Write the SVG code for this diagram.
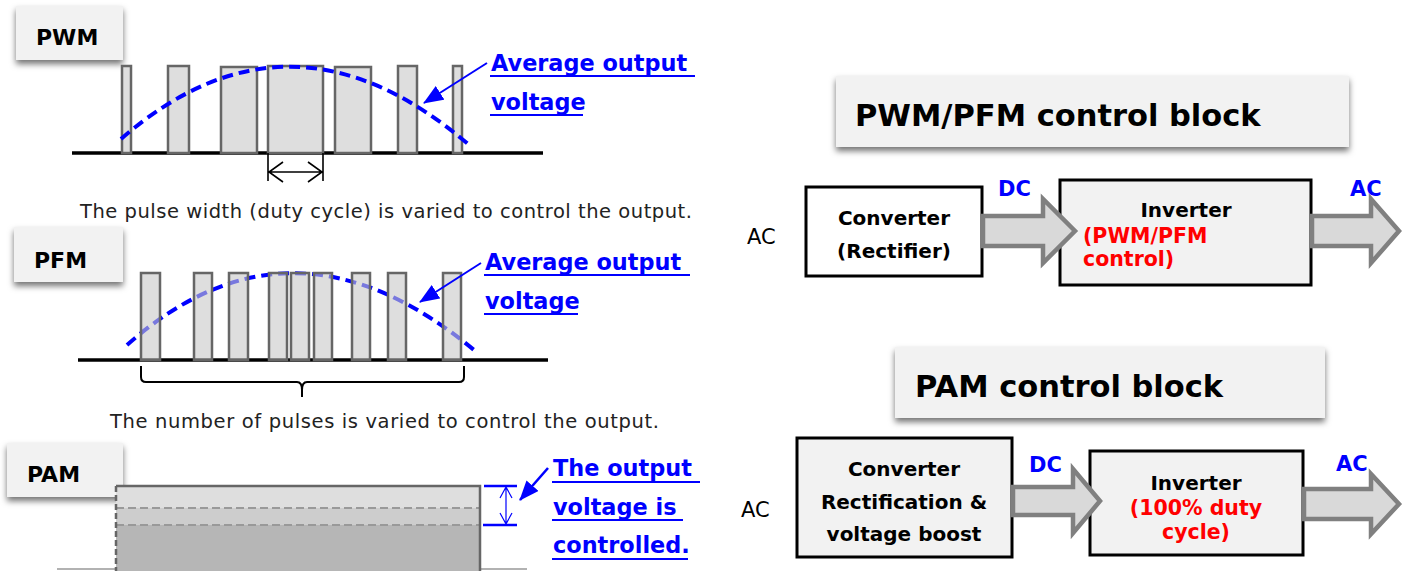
<svg xmlns="http://www.w3.org/2000/svg" width="1406" height="571" viewBox="0 0 1406 571">
<style>
text{font-family:"DejaVu Sans",Verdana,sans-serif}
.lbl{font-size:22px;font-weight:bold;fill:#000}
.title{font-size:30.5px;font-weight:bold;fill:#000}
.body{font-size:19.5px;fill:#222}
.ann{font-size:22.4px;font-weight:bold;fill:#0000ff}
.ul{stroke:#0000ff;stroke-width:2}
.box{fill:#f2f2f2}
.pulse{fill:#dedede;stroke:#666;stroke-width:2.5}
.pulse2{fill:#c8c8c8;fill-opacity:0.6;stroke:#666;stroke-width:2.5}
.avg{fill:none;stroke:#0000ff;stroke-width:4;stroke-dasharray:11 6}
.axis{stroke:#000;stroke-width:3.5}
.blk{stroke:#000;stroke-width:3}
.btxt{font-size:20px;font-weight:bold;fill:#000;text-anchor:middle}
.red{font-size:20.5px;font-weight:bold;fill:#ff0000}
.sig{font-size:21px;font-weight:bold;fill:#0000ff}
.ac{font-size:21px;fill:#000}
.barrow{fill:#d9d9d9;stroke:#808080;stroke-width:4.5;stroke-linejoin:miter}
</style>
<defs>
<filter id="sh" x="-10%" y="-20%" width="125%" height="160%">
<feDropShadow dx="0" dy="4" stdDeviation="3" flood-color="#000" flood-opacity="0.55"/>
</filter>
<marker id="bh" markerWidth="20" markerHeight="16" refX="19" refY="8" orient="auto" markerUnits="userSpaceOnUse" viewBox="0 0 20 16">
<path d="M0,0 L20,8 L0,16 Z" fill="#0000ff"/>
</marker>
</defs>

<!-- PWM section -->
<g id="pwm-label">
<rect x="16" y="6" width="107" height="54" class="box" filter="url(#sh)"/>
<text x="36" y="45" class="lbl">PWM</text>
</g>
<g id="pwm-chart">
<line x1="72" y1="153" x2="543" y2="153" class="axis"/>
<rect x="122" y="66" width="9" height="87" class="pulse"/>
<rect x="168" y="66" width="21" height="87" class="pulse"/>
<rect x="221" y="67" width="36" height="86" class="pulse"/>
<rect x="268" y="66" width="55" height="87" class="pulse"/>
<rect x="335" y="67" width="36" height="86" class="pulse"/>
<rect x="398" y="66" width="19" height="87" class="pulse"/>
<rect x="453" y="66" width="9" height="87" class="pulse"/>
<path d="M121,139 Q290,-8 468,144" class="avg"/>
<path d="M268,153 V181 M323,153 V181 M269,172 H322 M283,162 L269,172 L283,182 M308,162 L322,172 L308,182" fill="none" stroke="#000" stroke-width="1.6"/>
</g>
<g id="pwm-annotation">
<text x="491" y="71" class="ann">Average output</text>
<text x="491" y="110" class="ann">voltage</text>
<line x1="490" y1="76" x2="695" y2="76" class="ul"/>
<line x1="490" y1="115" x2="583" y2="115" class="ul"/>
</g>
<text x="80" y="218" class="body" textLength="612" lengthAdjust="spacing">The pulse width (duty cycle) is varied to control the output.</text>

<!-- PFM section -->
<g id="pfm-label">
<rect x="14" y="227" width="109" height="55" class="box" filter="url(#sh)"/>
<text x="34" y="268" class="lbl">PFM</text>
</g>
<g id="pfm-chart">
<line x1="78" y1="360" x2="548" y2="360" class="axis"/>
<path d="M127,345 Q292,199 474,350" class="avg"/>
<rect x="141" y="273" width="19" height="87" class="pulse2"/>
<rect x="194" y="273" width="18" height="87" class="pulse2"/>
<rect x="229" y="273" width="19" height="87" class="pulse2"/>
<rect x="269" y="273" width="18" height="87" class="pulse2"/>
<rect x="291" y="273" width="18" height="87" class="pulse2"/>
<rect x="314" y="273" width="18" height="87" class="pulse2"/>
<rect x="352" y="273" width="18" height="87" class="pulse2"/>
<rect x="388" y="273" width="18" height="87" class="pulse2"/>
<rect x="443" y="273" width="18" height="87" class="pulse2"/>
<path d="M141,366 V377 Q141,382 146,382 H297 Q302,382 302,390 V397 M302,390 Q302,382 307,382 H459 Q464,382 464,377 V366" fill="none" stroke="#000" stroke-width="2"/>
</g>
<g id="pfm-annotation">
<text x="485" y="270" class="ann">Average output</text>
<text x="485" y="309" class="ann">voltage</text>
<line x1="484" y1="275" x2="690" y2="275" class="ul"/>
<line x1="484" y1="314" x2="578" y2="314" class="ul"/>
</g>
<text x="110" y="428" class="body" textLength="549" lengthAdjust="spacing">The number of pulses is varied to control the output.</text>

<!-- PAM section -->
<g id="pam-label">
<rect x="7" y="443" width="116" height="54" class="box" filter="url(#sh)"/>
<text x="27" y="482" class="lbl">PAM</text>
</g>
<g id="pam-chart">
<line x1="57" y1="569" x2="527" y2="569" stroke="#999" stroke-width="1.5"/>
<rect x="116" y="486" width="364" height="22" fill="#dedede"/>
<rect x="116" y="508" width="364" height="17" fill="#cdcdcd"/>
<rect x="116" y="525" width="364" height="50" fill="#b6b6b6"/>
<line x1="116" y1="508" x2="480" y2="508" stroke="#999" stroke-width="2" stroke-dasharray="8 4"/>
<line x1="116" y1="525" x2="480" y2="525" stroke="#999" stroke-width="2" stroke-dasharray="8 4"/>
<path d="M116,486 H480 V575" fill="none" stroke="#666" stroke-width="2.5"/>
<line x1="116" y1="486" x2="116" y2="575" stroke="#666" stroke-width="2.5" stroke-dasharray="6 3"/>
<path d="M484,486 H517 M483,525 H517" stroke="#0000ff" stroke-width="2.5"/>
<path d="M506,487 V524 M500,498 L506,487 L512,498 M500,513 L506,524 L512,513" fill="none" stroke="#0000ff" stroke-width="1.2"/>
</g>
<g id="pam-annotation">
<text x="553" y="476" class="ann">The output</text>
<text x="553" y="515" class="ann">voltage is</text>
<text x="553" y="553" class="ann">controlled.</text>
<line x1="552" y1="482" x2="700" y2="482" class="ul"/>
<line x1="552" y1="520" x2="683" y2="520" class="ul"/>
<line x1="552" y1="559" x2="688" y2="559" class="ul"/>
</g>

<!-- Right: PWM/PFM control block -->
<g id="title-pwm-pfm">
<rect x="836" y="76" width="513" height="71" class="box" filter="url(#sh)"/>
<text x="855" y="126" class="title">PWM/PFM control block</text>
</g>
<text x="747" y="244" class="ac">AC</text>
<g id="converter1">
<rect x="806" y="187" width="176" height="89" fill="#fff" class="blk"/>
<text x="894" y="225" class="btxt">Converter</text>
<text x="894" y="258" class="btxt">(Rectifier)</text>
</g>
<g id="inverter1">
<rect x="1060" y="180" width="251" height="105" class="box blk"/>
<text x="1186" y="217" class="btxt">Inverter</text>
<text x="1083" y="243" class="red">(PWM/PFM</text>
<text x="1083" y="266" class="red">control)</text>
</g>

<!-- Right: PAM control block -->
<g id="title-pam">
<rect x="895" y="347" width="430" height="71" class="box" filter="url(#sh)"/>
<text x="915" y="397" class="title">PAM control block</text>
</g>
<text x="741" y="517" class="ac">AC</text>
<g id="converter2">
<rect x="797" y="438" width="215" height="119" class="box blk"/>
<text x="904" y="476" class="btxt">Converter</text>
<text x="904" y="509" class="btxt">Rectification &amp;</text>
<text x="904" y="541" class="btxt">voltage boost</text>
</g>
<g id="inverter2">
<rect x="1090" y="451" width="213" height="104" class="box blk"/>
<text x="1196" y="490" class="btxt">Inverter</text>
<text x="1196" y="515" class="red" text-anchor="middle">(100% duty</text>
<text x="1196" y="539" class="red" text-anchor="middle">cycle)</text>
</g>

<g id="connectors">
<line x1="487" y1="63" x2="424" y2="103" stroke="#0000ff" stroke-width="2" marker-end="url(#bh)"/>
<line x1="481" y1="263" x2="420" y2="302" stroke="#0000ff" stroke-width="2" marker-end="url(#bh)"/>
<line x1="548" y1="468" x2="520" y2="500" stroke="#0000ff" stroke-width="2.5" marker-end="url(#bh)"/>
<path d="M983,216 H1043 V199 L1075,231 L1043,263 V246 H983 Z" class="barrow"/>
<path d="M1312,216 H1371 V199 L1399,231 L1371,263 V246 H1312 Z" class="barrow"/>
<path d="M1013,487 H1073 V469 L1100,501 L1073,533 V515 H1013 Z" class="barrow"/>
<path d="M1304,489 H1371 V474 L1399,504 L1371,534 V519 H1304 Z" class="barrow"/>
</g>
<text x="998" y="196" class="sig">DC</text>
<text x="1350" y="196" class="sig">AC</text>
<text x="1029" y="472" class="sig">DC</text>
<text x="1336" y="471" class="sig">AC</text>
</svg>
